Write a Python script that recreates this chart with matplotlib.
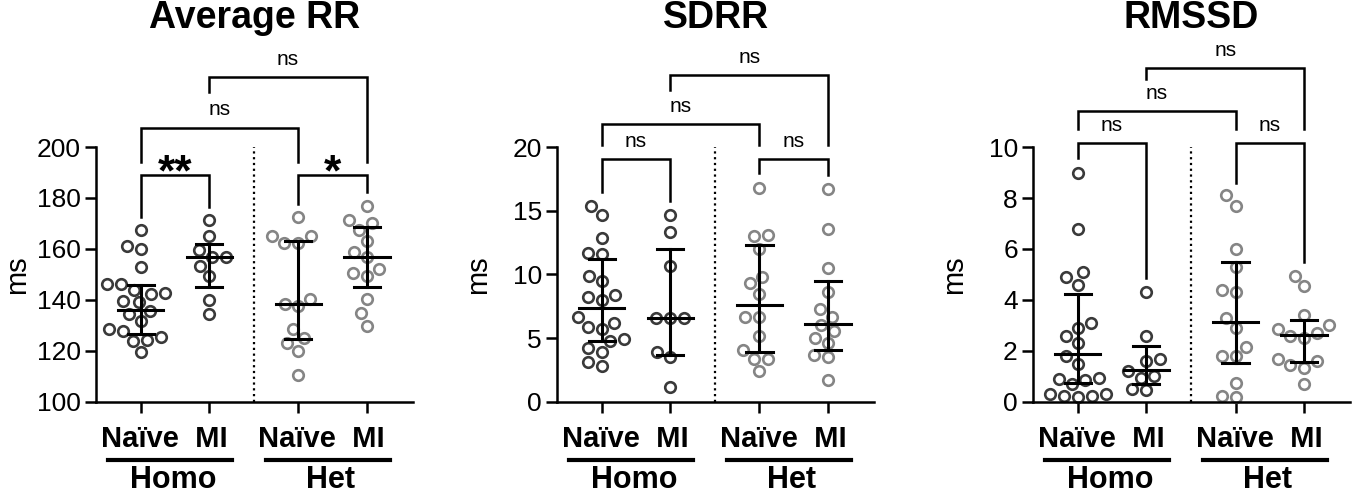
import numpy as np
import matplotlib
matplotlib.use('Agg')
import matplotlib.pyplot as plt

plt.rcParams['font.family'] = ['Liberation Sans', 'DejaVu Sans']

# ---- data ----
groups = ['Homo Naïve', 'Homo MI', 'Het Naïve', 'Het MI']

rr_homo_naive = [167.3, 161.0, 160.1, 152.8, 146.4, 146.4, 144.1, 142.7, 142.4, 139.5,
                 139.1, 135.6, 134.5, 131.6, 128.6, 128.0, 125.4, 124.4, 124.1, 119.6]
rr_homo_mi = [171.2, 165.0, 159.5, 156.7, 156.7, 153.5, 149.3, 140.1, 134.5]
rr_het_naive = [172.4, 165.0, 165.0, 162.4, 162.4, 140.4, 138.6, 137.5, 128.6, 125.1,
                123.1, 120.1, 110.5]
rr_het_mi = [177.0, 171.2, 170.0, 167.6, 163.0, 158.7, 157.0, 152.2, 150.6, 149.3,
             140.4, 134.9, 129.9]
rr_center = [136.2, 156.7, 138.4, 156.9]
rr_low = [126.7, 145.0, 124.7, 145.0]
rr_high = [146.0, 162.0, 163.3, 168.5]

sd_homo_naive = [15.4, 14.7, 12.9, 11.7, 11.6, 9.9, 9.5, 8.4, 8.2, 8.0,
                 6.7, 6.2, 5.9, 5.7, 4.9, 4.8, 4.2, 3.9, 3.1, 2.8]
sd_homo_mi = [14.7, 13.3, 10.7, 6.6, 6.6, 6.6, 3.9, 3.5, 1.2]
sd_het_naive = [16.8, 13.1, 13.0, 12.0, 9.8, 9.3, 8.5, 6.7, 6.7, 5.2, 4.1, 3.4, 3.4, 2.4]
sd_het_mi = [16.7, 13.6, 10.5, 8.6, 7.3, 6.7, 6.0, 5.6, 5.0, 4.6, 3.7, 3.5, 1.7]
sd_center = [7.4, 6.6, 7.6, 6.1]
sd_low = [4.8, 3.7, 3.9, 4.1]
sd_high = [11.2, 12.0, 12.3, 9.5]

rm_homo_naive = [9.0, 6.8, 5.1, 4.9, 4.6, 3.1, 2.9, 2.6, 2.3, 1.8,
                 1.5, 0.95, 0.9, 0.85, 0.7, 0.3, 0.3, 0.25, 0.25, 0.2]
rm_homo_mi = [4.3, 2.6, 1.7, 1.6, 1.2, 1.0, 0.95, 0.5, 0.45]
rm_het_naive = [8.1, 7.7, 6.0, 5.3, 4.4, 4.3, 3.3, 2.9, 2.15, 1.8, 1.8, 0.75, 0.25, 0.2]
rm_het_mi = [4.95, 4.55, 3.4, 3.0, 2.85, 2.7, 2.6, 2.5, 1.7, 1.6, 1.45, 1.35, 0.7]
rm_center = [1.87, 1.24, 3.12, 2.61]
rm_low = [0.74, 0.72, 1.53, 1.56]
rm_high = [4.22, 2.18, 5.49, 3.20]

# brackets: (group a, group b, top, left leg end, right leg end, label)
rr_brackets = [(0, 1, 188.9, 172.5, 176.5, '**'), (2, 3, 188.9, 177.8, 182.4, '*'),
               (0, 2, 207.6, 194.1, 194.1, 'ns'), (1, 3, 227.5, 221.5, 194.1, 'ns')]
sd_brackets = [(0, 1, 19.06, 16.5, 15.8, 'ns'), (2, 3, 19.06, 17.96, 17.8, 'ns'),
               (0, 2, 21.8, 20.16, 20.16, 'ns'), (1, 3, 25.65, 24.5, 20.16, 'ns')]
rm_brackets = [(0, 1, 10.16, 9.57, 4.86, 'ns'), (2, 3, 10.16, 8.59, 5.49, 'ns'),
               (0, 2, 11.41, 10.7, 10.7, 'ns'), (1, 3, 13.1, 12.67, 10.7, 'ns')]

panels = [
    ('Average RR', [rr_homo_naive, rr_homo_mi, rr_het_naive, rr_het_mi],
     rr_center, rr_low, rr_high, rr_brackets, (100, 200), np.arange(100, 201, 20)),
    ('SDRR', [sd_homo_naive, sd_homo_mi, sd_het_naive, sd_het_mi],
     sd_center, sd_low, sd_high, sd_brackets, (0, 20), np.arange(0, 21, 5)),
    ('RMSSD', [rm_homo_naive, rm_homo_mi, rm_het_naive, rm_het_mi],
     rm_center, rm_low, rm_high, rm_brackets, (0, 10), np.arange(0, 11, 2)),
]

xpos = [0, 1, 2.3, 3.3]
colors = ['#3a3a3a', '#3a3a3a', '#858585', '#858585']


def swarm(ax, x0, vals, diam=14.0):
    # simple beeswarm in pixel space
    placed = []
    xs, ys = [], []
    for v in sorted(vals):
        cx, cy = ax.transData.transform((x0, v))
        bad = []
        for px, py in placed:
            dy = abs(py - cy)
            if dy < diam:
                w = np.sqrt(diam ** 2 - dy ** 2)
                bad.append((px - w, px + w))
        cands = [cx] + [a for a, b in bad] + [b for a, b in bad]
        cands = sorted(cands, key=lambda c: abs(c - cx))
        for c in cands:
            if all(not (a + 1e-6 < c < b - 1e-6) for a, b in bad):
                break
        placed.append((c, cy))
        xd, yd = ax.transData.inverted().transform((c, cy))
        xs.append(xd)
        ys.append(v)
    return xs, ys


fig = plt.figure(figsize=(13.55, 4.95), dpi=100)
lefts = [0.0708, 0.4111, 0.7624]
lab_font = ['Liberation Sans Narrow', 'Liberation Sans']

for i, (title, data, center, low, high, brackets, ylim, yticks) in enumerate(panels):
    ax = fig.add_axes([lefts[i], 0.188, 0.234, 0.515])
    ax.set_xlim(-0.65, 3.97)
    ax.set_ylim(*ylim)
    ax.spines['top'].set_visible(False)
    ax.spines['right'].set_visible(False)
    for s in ['left', 'bottom']:
        ax.spines[s].set_linewidth(1.8)
    ax.set_yticks(yticks)
    ax.set_xticks(xpos)
    ax.set_xticklabels([])
    ax.tick_params(axis='both', width=1.8, length=8, labelsize=19, pad=3)

    for k in range(4):
        xs, ys = swarm(ax, xpos[k], data[k])
        ax.plot(xs, ys, 'o', ms=7.6, mfc='none', mec=colors[k], mew=1.9,
                clip_on=False, zorder=2)
        x0 = xpos[k]
        ax.plot([x0 - 0.33, x0 + 0.33], [center[k]] * 2, c='black', lw=2.2, zorder=3)
        ax.plot([x0, x0], [low[k], high[k]], c='black', lw=2.2, zorder=3)
        ax.plot([x0 - 0.19, x0 + 0.19], [low[k]] * 2, c='black', lw=2.2, zorder=3)
        ax.plot([x0 - 0.19, x0 + 0.19], [high[k]] * 2, c='black', lw=2.2, zorder=3)

    ax.plot([1.65, 1.65], ylim, c='black', lw=1.6, ls=(0, (1, 1.6)), zorder=1)

    for a, b, top, lend, rend, lab in brackets:
        xa, xb = xpos[a], xpos[b]
        ax.plot([xa, xa, xb, xb], [lend, top, top, rend], c='black', lw=1.8,
                clip_on=False, solid_joinstyle='miter')
        if lab == 'ns':
            ax.annotate(lab, ((xa + xb) / 2, top), xytext=(0, 6), textcoords='offset points',
                        ha='center', va='bottom', fontsize=15, annotation_clip=False)
        else:
            ax.annotate(lab, ((xa + xb) / 2, top), xytext=(0, -7), textcoords='offset points',
                        ha='center', va='baseline', fontsize=32, fontweight='bold',
                        annotation_clip=False)

    ax.set_ylabel('ms', fontsize=21)
    ax.yaxis.set_label_coords(-0.205, 0.5)
    ax.text(0.5, 1.0 + (147 - 18) / 255.0, title, transform=ax.transAxes,
            ha='center', va='center', fontsize=27, fontweight='bold')

    trans = ax.get_xaxis_transform()
    for gx, gname in [(0.5, 'Homo'), (2.8, 'Het')]:
        ax.text(gx - 0.16, -0.145, 'Naïve  MI', transform=trans, ha='center', va='center',
                fontsize=21, fontweight='bold', family=lab_font)
        ax.plot([gx - 0.97, gx + 0.83], [-0.227, -0.227], transform=trans, c='black',
                lw=3, clip_on=False)
        ax.text(gx - 0.03, -0.306, gname, transform=trans, ha='center', va='center',
                fontsize=22, fontweight='bold', family=lab_font)

fig.savefig('out.png', dpi=100)
